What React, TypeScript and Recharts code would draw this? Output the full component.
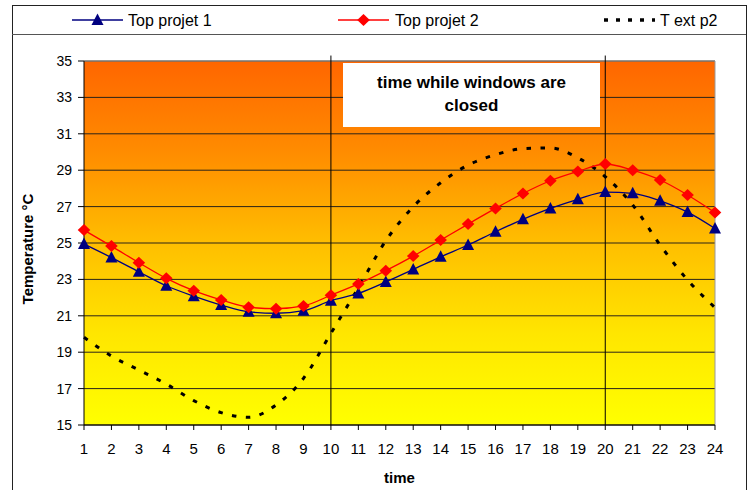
import { LineChart, Line, XAxis, YAxis, CartesianGrid, ReferenceLine, Label } from 'recharts';

// ============================================================================
// Data
// ============================================================================

const hours = [1, 2, 3, 4, 5, 6, 7, 8, 9, 10, 11, 12, 13, 14, 15, 16, 17, 18, 19, 20, 21, 22, 23, 24];

const topProjet1 = [
  24.94, 24.2, 23.42, 22.65, 22.08, 21.59, 21.22, 21.14, 21.28, 21.83, 22.23, 22.86,
  23.55, 24.24, 24.89, 25.62, 26.3, 26.9, 27.4, 27.8, 27.73, 27.32, 26.7, 25.8,
];

const topProjet2 = [
  25.71, 24.83, 23.92, 23.06, 22.38, 21.87, 21.47, 21.39, 21.54, 22.13, 22.75, 23.48,
  24.28, 25.16, 26.04, 26.9, 27.72, 28.42, 28.93, 29.34, 29.0, 28.46, 27.64, 26.67,
];

const tExtP2 = [
  19.82, 18.79, 18.02, 17.25, 16.34, 15.68, 15.42, 16.1, 17.56, 20.04, 22.54, 25.12,
  26.99, 28.31, 29.28, 29.85, 30.18, 30.22, 29.68, 28.64, 27.09, 24.89, 22.97, 21.45,
];

const yTicks = [15, 17, 19, 21, 23, 25, 27, 29, 31, 33, 35];

const closedFrom = 10;
const closedTo = 20;

const chartData = hours.map((t, i) => ({
  t,
  p1: topProjet1[i],
  p2: topProjet2[i],
  ext: tExtP2[i],
}));

// ============================================================================
// Constants
// ============================================================================

const FONT = '"Liberation Sans", Arial, sans-serif';
const NAVY = '#000080';
const RED = '#FF0000';

// ============================================================================
// Markers
// ============================================================================

function TriangleDot(props: any) {
  const { cx, cy, index } = props;
  if (cx == null || cy == null) return null;
  return (
    <polygon
      key={`tri-${index}`}
      points={`${cx},${cy - 6.5} ${cx + 6},${cy + 5} ${cx - 6},${cy + 5}`}
      fill={NAVY}
    />
  );
}

function DiamondDot(props: any) {
  const { cx, cy, index } = props;
  if (cx == null || cy == null) return null;
  return (
    <polygon
      key={`dia-${index}`}
      points={`${cx},${cy - 6} ${cx + 6.3},${cy} ${cx},${cy + 6} ${cx - 6.3},${cy}`}
      fill={RED}
    />
  );
}

// ============================================================================
// Legend (drawn above the chart frame)
// ============================================================================

function LegendBar() {
  return (
    <svg width={754} height={36} style={{ position: 'absolute', left: 0, top: 0 }}>
      <line x1={72} y1={20} x2={123} y2={20} stroke={NAVY} strokeWidth={1.5} />
      <polygon points="97.5,13.5 103.5,25 91.5,25" fill={NAVY} />
      <text x={128} y={26} fontSize={16} fontFamily={FONT} fill="#000">
        Top projet 1
      </text>

      <line x1={338} y1={20} x2={389} y2={20} stroke={RED} strokeWidth={1.5} />
      <polygon points="363.5,14 369.8,20 363.5,26 357.2,20" fill={RED} />
      <text x={395} y={26} fontSize={16} fontFamily={FONT} fill="#000">
        Top projet 2
      </text>

      <line x1={604} y1={20} x2={655} y2={20} stroke="#000" strokeWidth={3.5} strokeDasharray="4 8" />
      <text x={660} y={26} fontSize={16} fontFamily={FONT} fill="#000">
        T ext p2
      </text>

      <line x1={12} y1={34.5} x2={746} y2={34.5} stroke="#555" strokeWidth={1} />
    </svg>
  );
}

// ============================================================================
// Component
// ============================================================================

export default function App() {
  return (
    <div
      style={{
        position: 'absolute',
        left: 0,
        top: 0,
        width: 754,
        height: 490,
        overflow: 'hidden',
        background: '#fff',
        fontFamily: FONT,
      }}
    >
      {/* outer frame */}
      <div
        style={{
          position: 'absolute',
          left: 12,
          top: 5,
          width: 733,
          height: 520,
          border: '1px solid #222',
        }}
      />

      <LegendBar />

      <div style={{ position: 'absolute', left: 0, top: 0 }}>
        <LineChart
          width={754}
          height={490}
          data={chartData}
          margin={{ top: 61, right: 39, bottom: 35, left: 24 }}
        >
          <defs>
            <linearGradient id="bgGrad" x1="0" y1="0" x2="0" y2="1">
              <stop offset="0%" stopColor="#FF6600" />
              <stop offset="25%" stopColor="#FF8C00" />
              <stop offset="50%" stopColor="#FFBE00" />
              <stop offset="75%" stopColor="#FFE600" />
              <stop offset="100%" stopColor="#FFFF00" />
            </linearGradient>
          </defs>

          <CartesianGrid vertical={false} stroke="#2b2418" fill="url(#bgGrad)" fillOpacity={1} />

          <XAxis
            dataKey="t"
            interval={0}
            height={30}
            tickSize={5}
            tickMargin={13}
            axisLine={{ stroke: '#000' }}
            tickLine={{ stroke: '#000' }}
            tick={{ fill: '#000', fontSize: 15, fontFamily: FONT }}
          >
            <Label
              value="time"
              position="bottom"
              offset={17}
              style={{ fontSize: 15, fontWeight: 'bold', fontFamily: FONT, fill: '#000' }}
            />
          </XAxis>

          <YAxis
            domain={[15, 35]}
            ticks={yTicks}
            width={60}
            tickSize={6}
            tickMargin={6}
            axisLine={{ stroke: '#000' }}
            tickLine={{ stroke: '#000' }}
            tick={{ fill: '#000', fontSize: 14, fontFamily: FONT }}
          >
            <Label
              content={({ viewBox }: any) => {
                const cx = viewBox.x + 9;
                const cy = viewBox.y + viewBox.height / 2 + 6;
                return (
                  <text
                    x={cx}
                    y={cy}
                    transform={`rotate(-90, ${cx}, ${cy})`}
                    textAnchor="middle"
                    fontSize={15}
                    fontWeight="bold"
                    fontFamily={FONT}
                    fill="#000"
                  >
                    Temperature °C
                  </text>
                );
              }}
            />
          </YAxis>

          <ReferenceLine y={35} stroke="#999" />
          <ReferenceLine x={24} stroke="#999" />
          <ReferenceLine
            segment={[
              { x: closedFrom, y: 15 },
              { x: closedFrom, y: 35.3 },
            ]}
            ifOverflow="visible"
            stroke="#000"
          />
          <ReferenceLine
            segment={[
              { x: closedTo, y: 15 },
              { x: closedTo, y: 35.3 },
            ]}
            ifOverflow="visible"
            stroke="#000"
          />

          <Line
            type="monotone"
            dataKey="ext"
            stroke="#000"
            strokeWidth={3}
            strokeDasharray="4.5 9.5"
            dot={false}
            isAnimationActive={false}
          />
          <Line
            type="monotone"
            dataKey="p1"
            stroke={NAVY}
            strokeWidth={1.3}
            dot={TriangleDot}
            isAnimationActive={false}
          />
          <Line
            type="monotone"
            dataKey="p2"
            stroke={RED}
            strokeWidth={1.3}
            dot={DiamondDot}
            isAnimationActive={false}
          />
        </LineChart>
      </div>

      {/* annotation box */}
      <div
        style={{
          position: 'absolute',
          left: 343,
          top: 63,
          width: 257,
          height: 64,
          boxSizing: 'border-box',
          paddingTop: 8,
          background: '#fff',
          textAlign: 'center',
          fontSize: 17,
          fontWeight: 'bold',
          lineHeight: '23px',
          color: '#000',
        }}
      >
        time while windows are
        <br />
        closed
      </div>
    </div>
  );
}
